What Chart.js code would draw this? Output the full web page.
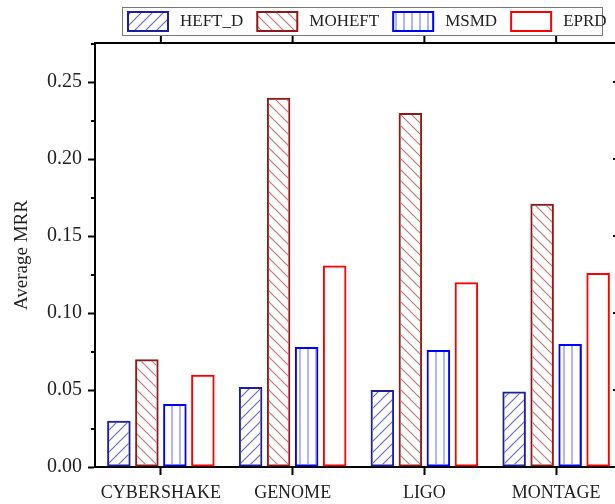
<!DOCTYPE html>
<html>
<head>
<meta charset="utf-8">
<script src="https://cdn.jsdelivr.net/npm/chart.js@4"></script>
<style>
  html, body { margin: 0; padding: 0; background: #fff; overflow: hidden; }
  canvas { display: block; }
</style>
</head>
<body>
<canvas id="myChart" width="640" height="504"></canvas>
<script>
const categories = ['CYBERSHAKE', 'GENOME', 'LIGO', 'MONTAGE'];
const heftD = [0.030, 0.052, 0.050, 0.049];
const moheft = [0.070, 0.240, 0.230, 0.171];
const msmd = [0.041, 0.078, 0.076, 0.080];
const eprd = [0.060, 0.131, 0.120, 0.126];
const yMax = 0.2755;

const FONT = "'Liberation Serif', 'Times New Roman', serif";

// hatch fills like the origin plot
const makePattern = (type, color, size) => {
  const c = document.createElement('canvas');
  c.width = size;
  c.height = size;
  const g = c.getContext('2d');
  g.strokeStyle = color;
  g.lineWidth = 1.2;
  g.beginPath();
  if (type === 'slash') {
    g.moveTo(0, size); g.lineTo(size, 0);
    g.moveTo(-2, 2); g.lineTo(2, -2);
    g.moveTo(size - 2, size + 2); g.lineTo(size + 2, size - 2);
  } else if (type === 'back') {
    g.moveTo(0, 0); g.lineTo(size, size);
    g.moveTo(size - 2, -2); g.lineTo(size + 2, 2);
    g.moveTo(-2, size - 2); g.lineTo(2, size + 2);
  } else if (type === 'vert') {
    g.moveTo(size / 2, 0); g.lineTo(size / 2, size);
  }
  g.stroke();
  return g.createPattern(c, 'repeat');
};

const datasets = [
  { label: 'HEFT_D', data: heftD, borderColor: '#1f1f9a', backgroundColor: makePattern('slash', '#6a6ad0', 11) },
  { label: 'MOHEFT', data: moheft, borderColor: '#8e1a1a', backgroundColor: makePattern('back', '#c07878', 11) },
  { label: 'MSMD', data: msmd, borderColor: '#0000ff', backgroundColor: makePattern('vert', '#8080ff', 8) },
  { label: 'EPRD', data: eprd, borderColor: '#ff0000', backgroundColor: 'rgba(0,0,0,0)' },
].map(d => ({ ...d, borderWidth: 2, borderSkipped: false, categoryPercentage: 0.85, barPercentage: 0.84 }));

// top/right frame, minor ticks and the boxed legend
const framePlugin = {
  id: 'frame',
  afterDraw(chart) {
    const { ctx, chartArea: a, scales } = chart;
    ctx.save();
    ctx.strokeStyle = '#000';
    ctx.lineWidth = 2;
    ctx.beginPath();
    ctx.moveTo(a.left - 1, a.top);
    ctx.lineTo(a.right + 1, a.top);
    ctx.moveTo(a.right, a.top);
    ctx.lineTo(a.right, a.bottom);
    categories.forEach((c, i) => {
      const x = scales.x.getPixelForValue(i);
      ctx.moveTo(x, a.top);
      ctx.lineTo(x, a.top - 8);
    });
    for (let v = 0.05; v < yMax; v += 0.05) {
      const y = Math.round(scales.y.getPixelForValue(v));
      ctx.moveTo(a.right, y);
      ctx.lineTo(a.right - 9, y);
    }
    ctx.stroke();

    ctx.beginPath();
    for (let v = 0.025; v < yMax; v += 0.05) {
      const y = Math.round(scales.y.getPixelForValue(v));
      ctx.moveTo(a.left, y);
      ctx.lineTo(a.left - 4, y);
    }
    ctx.stroke();

    // legend
    ctx.lineWidth = 1;
    ctx.strokeStyle = '#777';
    ctx.strokeRect(122.5, 7.5, 480, 28);
    ctx.font = '17px ' + FONT;
    ctx.textBaseline = 'middle';
    let x = 127;
    chart.data.datasets.forEach(ds => {
      ctx.fillStyle = ds.backgroundColor;
      ctx.fillRect(x, 11, 42, 21);
      ctx.strokeStyle = ds.borderColor;
      ctx.lineWidth = 2;
      ctx.strokeRect(x + 1, 12, 40, 19);
      ctx.fillStyle = '#222';
      const tx = x + 53;
      ctx.fillText(ds.label, tx, 22);
      x = tx + ctx.measureText(ds.label).width + 13;
    });
    ctx.restore();
  }
};

const ctx = document.getElementById('myChart');

const chart = new Chart(ctx, {
  type: 'bar',
  data: { labels: categories, datasets },
  options: {
    responsive: false,
    animation: false,
    devicePixelRatio: 1,
    layout: { padding: { top: 43, right: 18, left: 0, bottom: 0 } },
    plugins: {
      legend: { display: false },
      tooltip: { enabled: false },
    },
    scales: {
      x: {
        afterFit: s => { s.height = 37; },
        grid: { display: true, offset: false, drawOnChartArea: false, tickLength: 8, tickWidth: 2, color: '#000' },
        border: { display: true, color: '#000', width: 2 },
        ticks: { color: '#222', padding: 7, font: { family: FONT, size: 18 } },
      },
      y: {
        min: 0,
        max: yMax,
        afterFit: s => { s.width = 95; },
        afterBuildTicks: s => {
          s.ticks = s.ticks.filter(t => Math.abs(t.value / 0.05 - Math.round(t.value / 0.05)) < 1e-6);
        },
        grid: { display: true, drawOnChartArea: false, tickLength: 7, tickWidth: 2, color: '#000' },
        border: { display: true, color: '#000', width: 2 },
        ticks: {
          stepSize: 0.05,
          color: '#222',
          padding: 6,
          font: { family: FONT, size: 20 },
          callback: v => v.toFixed(2),
        },
        title: {
          display: true,
          text: 'Average MRR',
          color: '#222',
          padding: { top: 11, bottom: 0 },
          font: { family: FONT, size: 19 },
        },
      },
    },
  },
  plugins: [framePlugin],
});
</script>
</body>
</html>
